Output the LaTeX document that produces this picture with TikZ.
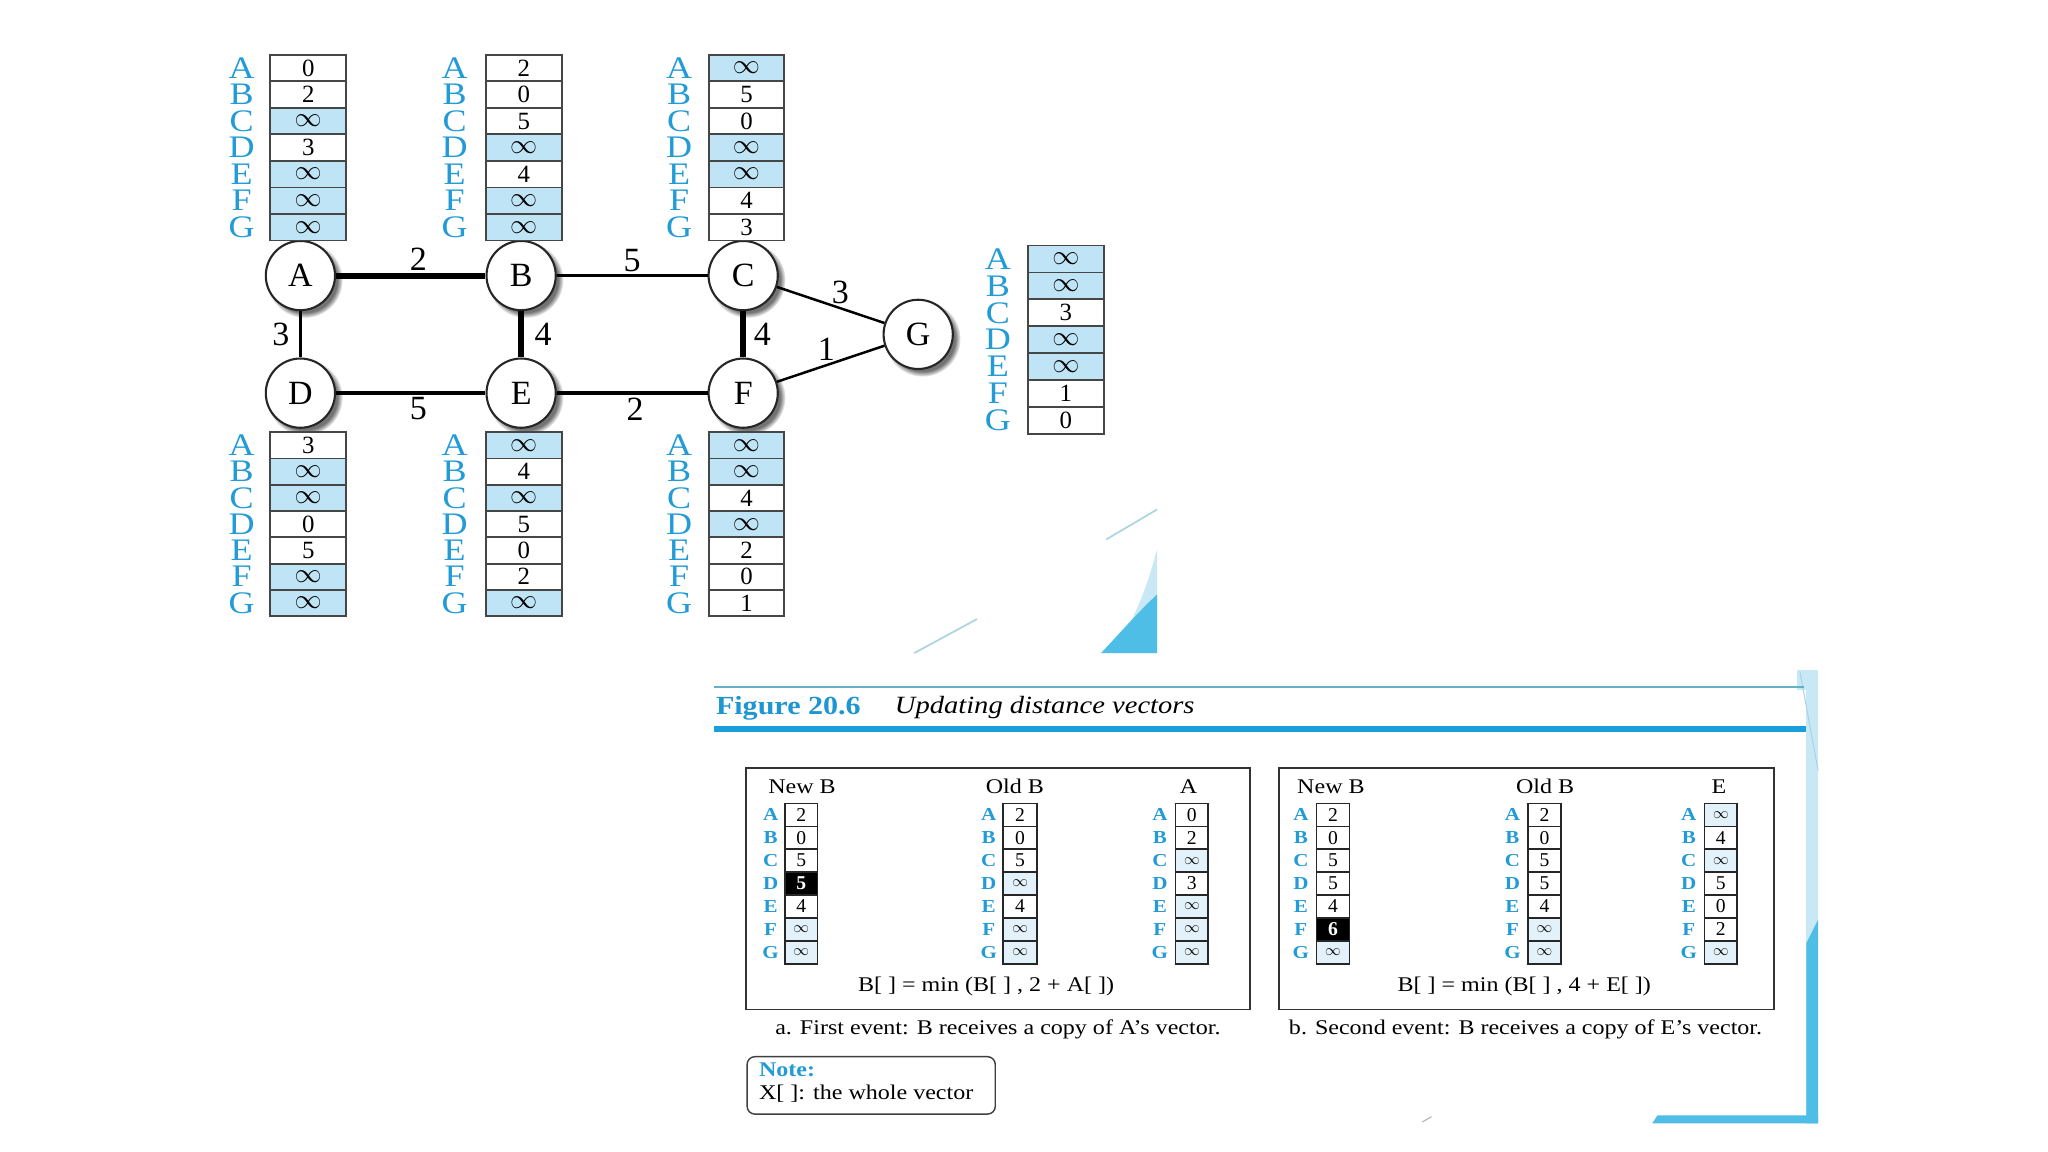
\documentclass[tikz,border=0pt]{standalone}
\usepackage{fontspec}
\setmainfont{Liberation Serif}
\newfontfamily\wf[FakeStretch=1.15]{Liberation Serif}
\usetikzlibrary{shadows}
\definecolor{lblue}{RGB}{35,155,215}
\definecolor{shadeT}{RGB}{190,228,246}
\definecolor{shadeP}{RGB}{226,241,250}
\definecolor{cellgray}{RGB}{70,70,70}
\definecolor{figblue}{RGB}{25,160,220}
\definecolor{headblue}{RGB}{30,150,210}
\definecolor{tealline}{RGB}{100,175,195}
\definecolor{bandlight}{RGB}{200,232,246}
\definecolor{banddark}{RGB}{78,190,230}
\definecolor{decoline}{RGB}{170,212,226}
\newcommand\tinf{{\fontsize{22}{22}\selectfont$\infty$}}
\newcommand\pinf{{\fontsize{12}{12}\selectfont$\infty$}}
\newcommand\dvec[8]{%
  \pgfmathsetmacro\cw{#4-#3}%
  \foreach \L/\V/\S [count=\i] in {#8} {%
    \pgfmathsetmacro\yc{#5+(\i-0.5)*#6}%
    \node[\S, minimum width=\cw pt, minimum height=#6 pt] (#1\L) at ({(#3+#4)/2},\yc) {\V};
    \node[#7] (#1l\L) at (#2,\yc) {\L};
  }}
\tikzset{
  tcell/.style={draw=cellgray, line width=1.4pt, fill=white, inner sep=0pt, font=\fontsize{19}{19}\selectfont},
  tshade/.style={tcell, fill=shadeT},
  pcell/.style={draw=black!85, line width=1.1pt, fill=white, inner sep=0pt, font=\fontsize{15}{15}\selectfont},
  pshade/.style={pcell, fill=shadeP},
  pblack/.style={pcell, fill=black, text=white, font=\bfseries\fontsize{15}{15}\selectfont},
  tlab/.style={text=lblue, inner sep=0pt, font=\wf\fontsize{24}{24}\selectfont},
  plab/.style={text=lblue, inner sep=0pt, font=\wf\bfseries\fontsize{14}{14}\selectfont},
  gnode/.style={circle, draw=black!85, line width=1.6pt, fill=white, minimum size=53pt, inner sep=0pt,
    font=\fontsize{26}{26}\selectfont,
    circular drop shadow={shadow xshift=3pt, shadow yshift=-3pt, fill=black!55}},
  elab/.style={inner sep=2pt, font=\fontsize{26}{26}\selectfont},
  thickedge/.style={line width=4.5pt},
  midedge/.style={line width=2.8pt},
  thinedge/.style={line width=1.9pt},
  panelbox/.style={draw=black!80, line width=1.3pt, inner sep=0pt},
  hdr/.style={inner sep=0pt, font=\wf\fontsize{16}{16}\selectfont},
  txt/.style={inner sep=0pt, font=\wf\fontsize{16}{16}\selectfont},
}
\begin{document}
\begin{tikzpicture}[x=1pt,y=-1pt]
\useasboundingbox (0,0) rectangle (1568,882);
\fill[white] (0,0) rectangle (1568,882);

% decorative shapes near graph
\draw[decoline, line width=1.3pt] (847,413) -- (886,390);
\draw[decoline, line width=1.3pt] (700,500) -- (748,474);
\fill[bandlight] (886,420) .. controls (878,450) and (868,478) .. (850,500) -- (886,500) -- cycle;
\fill[banddark] (843,500) .. controls (858,484) and (872,468) .. (886,455) -- (886,500) -- cycle;

% right band and bottom bar
\fill[bandlight] (1376,513) -- (1392,513) -- (1392,860) -- (1376,860) -- cycle;
\fill[white] (1376,528) rectangle (1383,855);
\fill[bandlight] (1383,528) rectangle (1386,855);
\fill[banddark] (1383,722) -- (1392,704) -- (1392,860) -- (1383,860) -- cycle;
\fill[banddark] (1269,854) -- (1392,854) -- (1392,860) -- (1265,860) -- cycle;
\draw[decoline, line width=0.8pt] (1378,514) -- (1392,590);
\draw[black!30, line width=0.8pt] (1089,859) -- (1096,855);

% figure heading
\draw[tealline, line width=1.4pt] (547,526) -- (1381,526);
\draw[figblue, line width=5pt] (547,558) -- (1383,558);
\node[anchor=west, inner sep=0pt, text=headblue, font=\wf\bfseries\fontsize{20}{20}\selectfont] (fignum) at (548,542) {Figure 20.6};
\node[anchor=west, inner sep=0pt, font=\wf\itshape\fontsize{19}{19}\selectfont] (figtitle) at (685,542) {Updating distance vectors};

% graph nodes
\node[gnode] (A) at (230,211) {A};
\node[gnode] (B) at (399,211) {B};
\node[gnode] (C) at (569,211) {C};
\node[gnode] (D) at (230,301) {D};
\node[gnode] (E) at (399,301) {E};
\node[gnode] (F) at (569,301) {F};
\node[gnode] (G) at (703,256) {G};

% graph edges
\draw[thickedge] (A) -- node[elab, above, pos=0.55] {2} (B);
\draw[thinedge] (B) -- node[elab, above, pos=0.5] {5} (C);
\draw[thinedge] (C) -- node[elab, above right, pos=0.5, inner sep=0pt] {3} (G);
\draw[midedge] (A) -- node[elab, left=5pt] {3} (D);
\draw[thickedge] (B) -- node[elab, right=6pt] {4} (E);
\draw[thickedge] (C) -- node[elab, right=4pt] {4} (F);
\draw[thinedge] (F) -- node[elab, above left, pos=0.55, inner sep=0pt] {1} (G);
\draw[midedge] (D) -- node[elab, below, pos=0.55] {5} (E);
\draw[midedge] (E) -- node[elab, below, pos=0.52] {2} (F);

% distance vectors around the graph
\dvec{a}{185}{207}{265}{42}{20.3}{tlab}{A/0/tcell, B/2/tcell, C/\tinf/tshade, D/3/tcell, E/\tinf/tshade, F/\tinf/tshade, G/\tinf/tshade}
\dvec{b}{348}{372}{430}{42}{20.3}{tlab}{A/2/tcell, B/0/tcell, C/5/tcell, D/\tinf/tshade, E/4/tcell, F/\tinf/tshade, G/\tinf/tshade}
\dvec{c}{520}{543}{600}{42}{20.3}{tlab}{A/\tinf/tshade, B/5/tcell, C/0/tcell, D/\tinf/tshade, E/\tinf/tshade, F/4/tcell, G/3/tcell}
\dvec{g}{764}{787}{845}{188}{20.6}{tlab}{A/\tinf/tshade, B/\tinf/tshade, C/3/tcell, D/\tinf/tshade, E/\tinf/tshade, F/1/tcell, G/0/tcell}
\dvec{d}{185}{207}{265}{331}{20.1}{tlab}{A/3/tcell, B/\tinf/tshade, C/\tinf/tshade, D/0/tcell, E/5/tcell, F/\tinf/tshade, G/\tinf/tshade}
\dvec{e}{348}{372}{430}{331}{20.1}{tlab}{A/\tinf/tshade, B/4/tcell, C/\tinf/tshade, D/5/tcell, E/0/tcell, F/2/tcell, G/\tinf/tshade}
\dvec{f}{520}{543}{600}{331}{20.1}{tlab}{A/\tinf/tshade, B/\tinf/tshade, C/4/tcell, D/\tinf/tshade, E/2/tcell, F/0/tcell, G/1/tcell}

% panels
\node[panelbox, minimum width=386pt, minimum height=185pt] (pa) at (764,680.5) {};
\node[panelbox, minimum width=379pt, minimum height=185pt] (pb) at (1168.5,680.5) {};

\node[hdr] (paNh) at (614,602) {New B};
\node[hdr] (paOh) at (777,602) {Old B};
\node[hdr] (paXh) at (910,602) {A};
\node[hdr] (pbNh) at (1019,602) {New B};
\node[hdr] (pbOh) at (1183,602) {Old B};
\node[hdr] (pbXh) at (1316,602) {E};

\dvec{paN}{590}{601}{626}{615}{17.57}{plab}{A/2/pcell, B/0/pcell, C/5/pcell, D/5/pblack, E/4/pcell, F/\pinf/pshade, G/\pinf/pshade}
\dvec{paO}{757}{768}{794}{615}{17.57}{plab}{A/2/pcell, B/0/pcell, C/5/pcell, D/\pinf/pshade, E/4/pcell, F/\pinf/pshade, G/\pinf/pshade}
\dvec{paX}{888}{900}{925}{615}{17.57}{plab}{A/0/pcell, B/2/pcell, C/\pinf/pshade, D/3/pcell, E/\pinf/pshade, F/\pinf/pshade, G/\pinf/pshade}
\dvec{pbN}{996}{1008}{1033}{615}{17.57}{plab}{A/2/pcell, B/0/pcell, C/5/pcell, D/5/pcell, E/4/pcell, F/6/pblack, G/\pinf/pshade}
\dvec{pbO}{1158}{1170}{1195}{615}{17.57}{plab}{A/2/pcell, B/0/pcell, C/5/pcell, D/5/pcell, E/4/pcell, F/\pinf/pshade, G/\pinf/pshade}
\dvec{pbX}{1293}{1305}{1330}{615}{17.57}{plab}{A/\pinf/pshade, B/4/pcell, C/\pinf/pshade, D/5/pcell, E/0/pcell, F/2/pcell, G/\pinf/pshade}

\node[txt] (fa) at (755,755) {B[ ] = min (B[ ] , 2 + A[ ])};
\node[txt] (fb) at (1167,755) {B[ ] = min (B[ ] , 4 + E[ ])};
\node[txt] (capa) at (764,788) {a. First event: B receives a copy of A’s vector.};
\node[txt] (capb) at (1168,788) {b. Second event: B receives a copy of E’s vector.};

% note box
\draw[black!75, line width=1.1pt, rounded corners=6pt] (572,809) rectangle (762,853);
\node[anchor=west, inner sep=0pt, text=lblue, font=\wf\bfseries\fontsize{16}{16}\selectfont] (notet) at (581,819) {Note:};
\node[anchor=west, inner sep=0pt, font=\wf\fontsize{16}{16}\selectfont] (noteb) at (581,837) {X[ ]: the whole vector};
\end{tikzpicture}
\end{document}
